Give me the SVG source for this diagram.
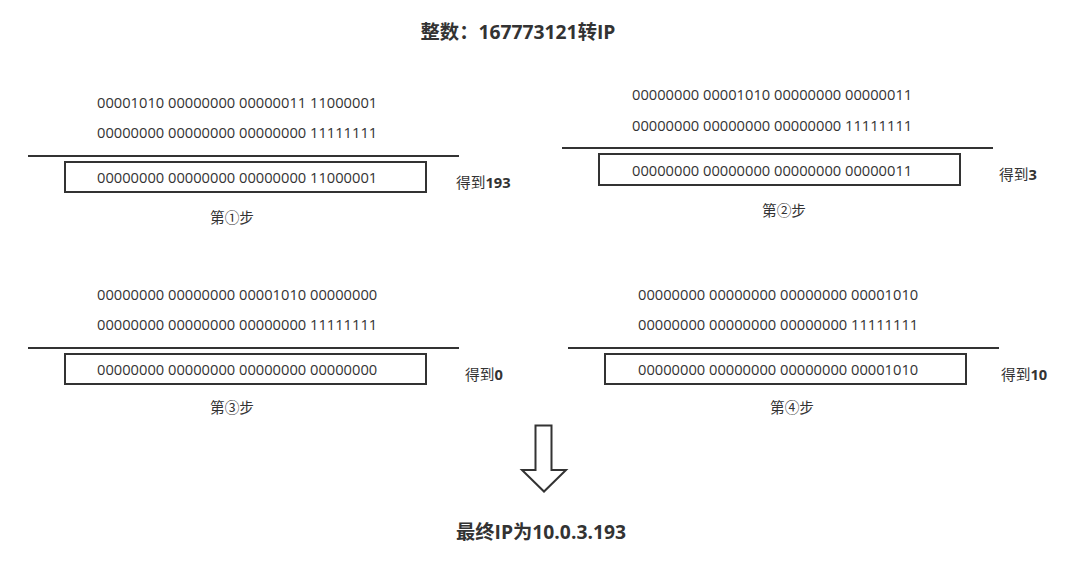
<svg xmlns="http://www.w3.org/2000/svg" width="1080" height="565" viewBox="0 0 1080 565">
<style>
text{font-family:"Open Sans","Noto Sans CJK SC",sans-serif;fill:#333}
.b{font-size:14.7px}
.m{text-anchor:middle}
.t{font-size:19.3px;font-weight:bold}
.bold{font-weight:bold}
.l{stroke:#333;stroke-width:2;fill:none}
</style>
<rect width="1080" height="565" fill="#fff"/>
<text class="t m" x="518" y="39">整数：167773121转IP</text>

<g id="step1">
<text class="b" x="97" y="108">00001010 00000000 00000011 11000001</text>
<text class="b" x="97" y="138">00000000 00000000 00000000 11111111</text>
<line class="l" x1="28" y1="156" x2="459" y2="156"/>
<rect class="l" x="65" y="162" width="361" height="30"/>
<text class="b" x="97" y="183">00000000 00000000 00000000 11000001</text>
<text class="b" x="456" y="188">得到<tspan class="bold">193</tspan></text>
<text class="b m" x="232" y="223">第①步</text>
</g>

<g id="step2">
<text class="b" x="632" y="100">00000000 00001010 00000000 00000011</text>
<text class="b" x="632" y="131">00000000 00000000 00000000 11111111</text>
<line class="l" x1="562" y1="148" x2="993" y2="148"/>
<rect class="l" x="599" y="154" width="361" height="31"/>
<text class="b" x="632" y="176">00000000 00000000 00000000 00000011</text>
<text class="b" x="999" y="180">得到<tspan class="bold">3</tspan></text>
<text class="b m" x="784" y="216">第②步</text>
</g>

<g id="step3">
<text class="b" x="97" y="300">00000000 00000000 00001010 00000000</text>
<text class="b" x="97" y="330">00000000 00000000 00000000 11111111</text>
<line class="l" x1="28" y1="348" x2="459" y2="348"/>
<rect class="l" x="65" y="354" width="361" height="30"/>
<text class="b" x="97" y="375">00000000 00000000 00000000 00000000</text>
<text class="b" x="465" y="380">得到<tspan class="bold">0</tspan></text>
<text class="b m" x="232" y="413">第③步</text>
</g>

<g id="step4">
<text class="b" x="638" y="300">00000000 00000000 00000000 00001010</text>
<text class="b" x="638" y="330">00000000 00000000 00000000 11111111</text>
<line class="l" x1="568" y1="348" x2="999" y2="348"/>
<rect class="l" x="605" y="354" width="361" height="30"/>
<text class="b" x="638" y="375">00000000 00000000 00000000 00001010</text>
<text class="b" x="1001" y="380">得到<tspan class="bold">10</tspan></text>
<text class="b m" x="792" y="413">第④步</text>
</g>

<g id="connectors">
<path class="l" d="M535.5,425.5 H551.5 V470 H566 L544,491.5 L522,470 H535.5 Z"/>
</g>

<g id="result">
<text class="t m" x="541" y="539">最终IP为10.0.3.193</text>
</g>
</svg>
